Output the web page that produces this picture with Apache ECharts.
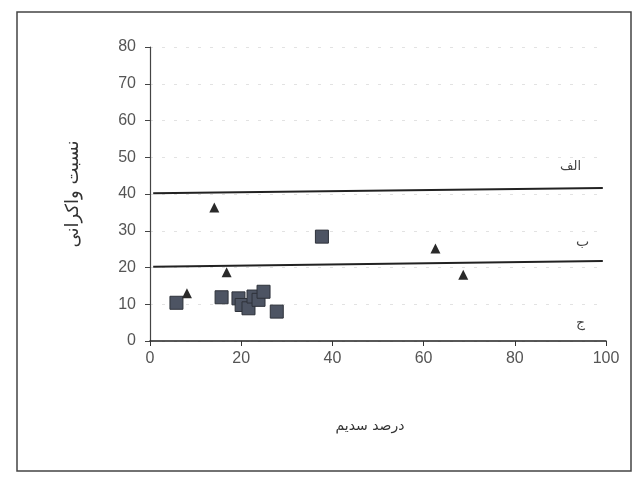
<!DOCTYPE html>
<html><head><meta charset="utf-8">
<script src="https://cdn.jsdelivr.net/npm/echarts@6/dist/echarts.min.js"></script>
<style>html,body{margin:0;padding:0;background:#fff}#c{width:636px;height:478px}</style>
</head><body><div id="c"></div>
<script>
// Squares series (x = درصد سدیم, y = نسبت واکرانی)
const squareX = [5.8, 15.7, 19.4, 20.1, 21.6, 22.7, 23.8, 24.9, 27.8, 37.7];
const squareY = [10.4, 11.9, 11.6, 9.8, 8.9, 12.1, 11.2, 13.4, 8.0, 28.4];
// Triangle series
const triX = [8.1, 14.1, 16.8, 62.6, 68.7];
const triY = [13.0, 36.3, 18.7, 25.2, 18.0];
// Boundary lines
const lineAX = [0.7, 99.3], lineAY = [40.2, 41.6];
const lineBX = [0.7, 99.3], lineBY = [20.2, 21.8];
const zoneLabels = ['الف', 'ب', 'ج'];
const xTicks = [0, 20, 40, 60, 80, 100];
const yTicks = [0, 10, 20, 30, 40, 50, 60, 70, 80];

const zip = (a, b) => a.map((v, i) => [v, b[i]]);
const chart = echarts.init(document.getElementById('c'));
const FONT = '"Liberation Sans", Arial, sans-serif';
const AR = '"DejaVu Sans", sans-serif';
chart.setOption({
  animation: false,
  backgroundColor: '#fff',
  grid: { left: 150, right: 30, top: 47, bottom: 137 },
  xAxis: {
    type: 'value', min: xTicks[0], max: xTicks[xTicks.length - 1], interval: 20,
    name: 'درصد سدیم', nameLocation: 'middle', nameGap: 78,
    nameTextStyle: { fontFamily: AR, fontSize: 14, color: '#333', padding: [0, 16, 0, 0] },
    axisLine: { lineStyle: { color: '#222', width: 1.5 } },
    axisTick: { show: true, length: 5, lineStyle: { color: '#333' } },
    axisLabel: { fontFamily: FONT, fontSize: 16, color: '#555', margin: 10 },
    splitLine: { show: false }
  },
  yAxis: {
    type: 'value', min: yTicks[0], max: yTicks[yTicks.length - 1], interval: 10,
    name: 'نسبت واکرانی', nameLocation: 'middle', nameGap: 68, nameRotate: 90,
    nameTextStyle: { fontFamily: AR, fontSize: 18, color: '#333' },
    axisLine: { show: true, lineStyle: { color: '#444', width: 1.2 } },
    axisTick: { show: true, length: 5, lineStyle: { color: '#444' } },
    axisLabel: { fontFamily: FONT, fontSize: 16, color: '#555', margin: 14 },
    splitLine: { show: true, lineStyle: { color: '#e2e2e2', type: [3, 9], width: 1 } }
  },
  graphic: [
    { type: 'rect', shape: { x: 17, y: 12, width: 614, height: 459 }, style: { fill: 'none', stroke: '#444', lineWidth: 1.5 }, silent: true },
    { type: 'text', left: 560, top: 160, style: { text: zoneLabels[0], fontSize: 13, fill: '#444', fontFamily: AR } },
    { type: 'text', left: 576, top: 235, style: { text: zoneLabels[1], fontSize: 14, fill: '#444', fontFamily: AR } },
    { type: 'text', left: 576, top: 316, style: { text: zoneLabels[2], fontSize: 14, fill: '#444', fontFamily: AR } }
  ],
  series: [
    { type: 'line', data: zip(lineAX, lineAY), symbol: 'none', lineStyle: { color: '#222', width: 2 }, silent: true },
    { type: 'line', data: zip(lineBX, lineBY), symbol: 'none', lineStyle: { color: '#222', width: 2 }, silent: true },
    { type: 'scatter', data: zip(squareX, squareY), symbol: 'rect', symbolSize: 13,
      itemStyle: { color: '#4d5463', borderColor: '#2e323a', borderWidth: 1, opacity: 1 } },
    { type: 'scatter', data: zip(triX, triY), symbol: 'triangle', symbolSize: 10,
      itemStyle: { color: '#2a2a2a', opacity: 1 } }
  ]
});
</script></body></html>
